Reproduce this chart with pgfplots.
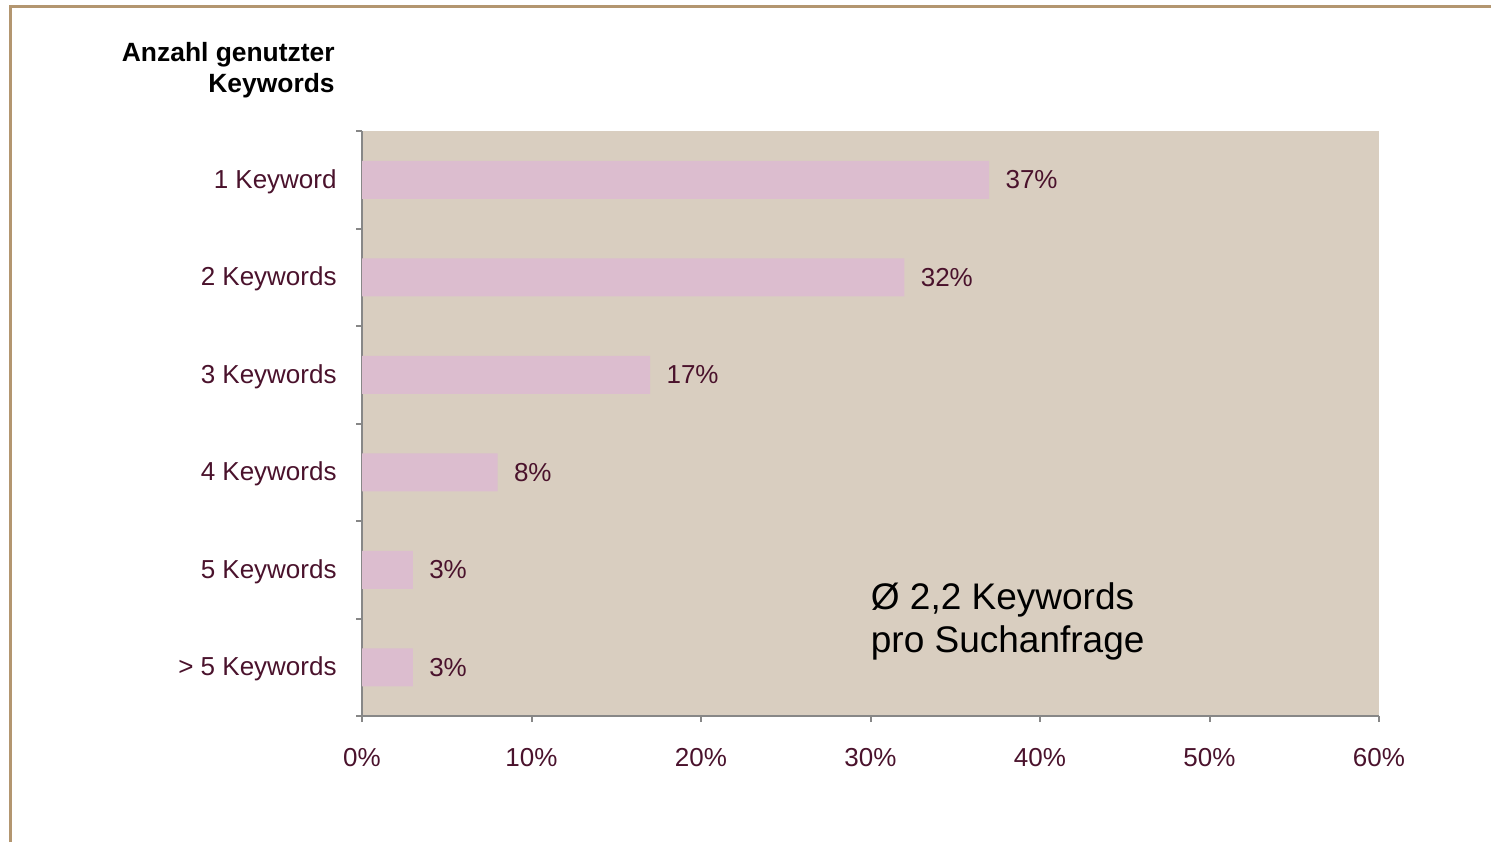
\documentclass[border=0pt]{standalone}
\usepackage{pgfplots}
\pgfplotsset{compat=1.18}
\usepackage{fontspec}
\setmainfont{Liberation Sans}
\definecolor{bgtan}{HTML}{D9CEC0}
\definecolor{barpink}{HTML}{DCBDCF}
\definecolor{maroon}{HTML}{4A122C}
\definecolor{axisgray}{HTML}{878787}
\definecolor{framecol}{HTML}{B39670}
\begin{document}
\begin{tikzpicture}
\path[use as bounding box] (0,0) rectangle (745.5pt,421pt);
\draw[framecol, line width=1.5pt] (5pt,0) -- (5pt,417.5pt) -- (745.5pt,417.5pt);
\node[anchor=base east, inner sep=0pt, font=\bfseries\fontsize{13.2}{16}\selectfont] at (167.5pt,390pt) {Anzahl genutzter};
\node[anchor=base east, inner sep=0pt, font=\bfseries\fontsize{13.2}{16}\selectfont] at (167.5pt,374.5pt) {Keywords};
\begin{axis}[
  at={(181pt,63pt)}, anchor=south west,
  scale only axis, width=508.5pt, height=292.5pt,
  xmin=0, xmax=60, ymin=0, ymax=6,
  axis lines=left,
  axis line style={-, draw=axisgray, line width=1pt},
  axis background/.style={fill=bgtan},
  tick align=outside, major tick length=3pt,
  tick style={draw=axisgray, line width=1pt},
  /pgf/number format/assume math mode=true,
  font=\fontsize{13}{15}\selectfont,
  xtick={0,10,...,60},
  xticklabel={\pgfmathprintnumber{\tick}\%},
  xticklabel style={text=maroon, inner sep=0pt, yshift=-13pt},
  ytick={0,1,2,3,4,5,6},
  yticklabels={,,,,,,},
  extra y ticks={0.5,1.5,2.5,3.5,4.5,5.5},
  extra y tick labels={> 5 Keywords,5 Keywords,4 Keywords,3 Keywords,2 Keywords,1 Keyword},
  extra y tick style={major tick length=0pt, yticklabel style={text=maroon, inner sep=0pt, xshift=-12.5pt, yshift=-1pt}},
  xbar, bar width=19pt,
  nodes near coords={\pgfmathprintnumber{\pgfplotspointmeta}\%},
  nodes near coords style={anchor=west, text=maroon, inner sep=0pt, xshift=8pt},
  point meta=explicit,
]
\addplot[fill=barpink, draw=none] coordinates {
  (37,5.5) [37]
  (32,4.5) [32]
  (17,3.5) [17]
  (8,2.5) [8]
  (3,1.5) [3]
  (3,0.5) [3]
};
\node[anchor=base west, inner sep=0pt, font=\fontsize{18.5}{22}\selectfont] at (axis cs:30,1.097) {Ø 2,2 Keywords};
\node[anchor=base west, inner sep=0pt, font=\fontsize{18.5}{22}\selectfont] at (axis cs:30,0.647) {pro Suchanfrage};
\end{axis}
\end{tikzpicture}
\end{document}
